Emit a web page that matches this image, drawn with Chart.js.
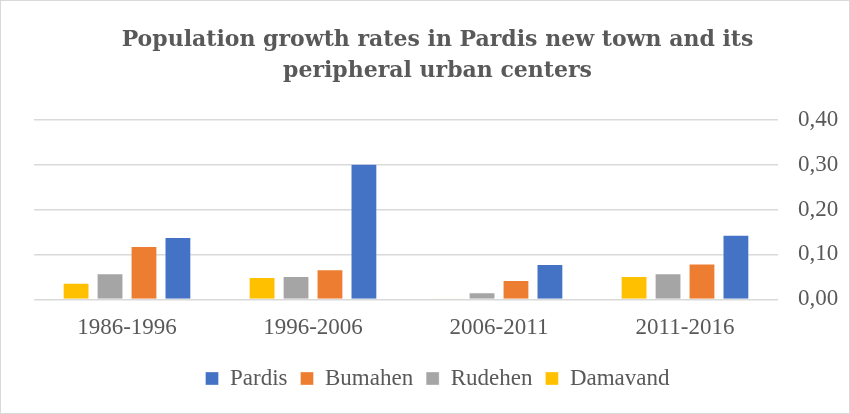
<!DOCTYPE html>
<html>
<head>
<meta charset="utf-8">
<script src="https://cdn.jsdelivr.net/npm/chart.js@4"></script>
<style>
  html, body { margin: 0; padding: 0; background: #fff; }
  #wrap { position: relative; width: 848px; height: 412px; border: 1px solid #d9d9d9; }
</style>
</head>
<body>
<div id="wrap"><canvas id="myChart"></canvas></div>
<script>
var periods = ["1986-1996", "1996-2006", "2006-2011", "2011-2016"];

var damavand = [0.037, 0.050, 0.002, 0.052];
var rudehen = [0.058, 0.052, 0.016, 0.058];
var bumahen = [0.119, 0.067, 0.043, 0.080];
var pardis = [0.139, 0.302, 0.079, 0.144];

var yTicks = [0, 0.1, 0.2, 0.3, 0.4];

var grey = "#595959";
var serif = "'Liberation Serif', 'Times New Roman', serif";

function bars(label, data, color) {
  return {
    label: label,
    data: data,
    backgroundColor: color,
    borderColor: "rgba(255,255,255,0.35)",
    borderWidth: 1,
    categoryPercentage: 0.73,
    barPercentage: 0.79
  };
}

var ctx = document.getElementById("myChart");

var myChart = new Chart(ctx, {
  type: "bar",
  data: {
    labels: periods,
    datasets: [
      bars("Damavand", damavand, "#FFC000"),
      bars("Rudehen", rudehen, "#A5A5A5"),
      bars("Bumahen", bumahen, "#ED7D31"),
      bars("Pardis", pardis, "#4472C4")
    ]
  },
  options: {
    responsive: true,
    maintainAspectRatio: false,
    animation: false,
    layout: { padding: { left: 33, right: 8, top: 24, bottom: 13 } },
    plugins: {
      title: {
        display: true,
        text: ["Population growth rates in Pardis new town and its", "peripheral urban centers"],
        color: grey,
        font: { family: "'DejaVu Serif', serif", size: 22, weight: "bold", lineHeight: 1.4 },
        padding: { top: 0, bottom: 33 }
      },
      legend: {
        position: "bottom",
        reverse: true,
        labels: {
          color: grey,
          font: { family: serif, size: 23 },
          boxWidth: 13,
          boxHeight: 13,
          padding: 13
        }
      },
      tooltip: { enabled: false }
    },
    scales: {
      x: {
        grid: { display: false },
        border: { display: false },
        afterFit: function (axis) {
          axis.height += 5;
        },
        ticks: { color: grey, font: { family: serif, size: 23 }, padding: 7 }
      },
      y: {
        position: "right",
        min: 0,
        max: 0.4,
        afterBuildTicks: function (axis) {
          axis.ticks = yTicks.map(function (v) { return { value: v }; });
        },
        afterFit: function (axis) {
          axis.width = 63;
        },
        grid: { color: "#d9d9d9", lineWidth: 1.5, drawTicks: false },
        border: { display: false },
        ticks: {
          color: grey,
          font: { family: serif, size: 23 },
          padding: 20,
          callback: function (v) { return v.toFixed(2).replace(".", ","); }
        }
      }
    }
  }
});
</script>
</body>
</html>
